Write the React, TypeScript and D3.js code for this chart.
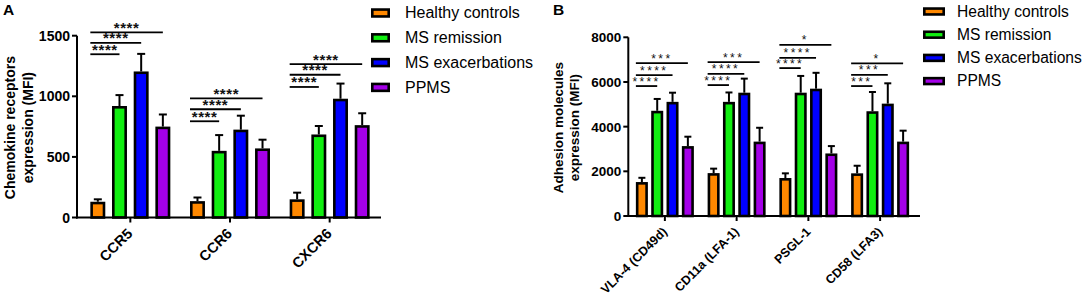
import React from "react";
import * as d3 from "d3";

// ---------- shared ----------
const seriesNames = ["Healthy controls", "MS remission", "MS exacerbations", "PPMS"];
const seriesColors = ["#FF8800", "#11EE11", "#0000FF", "#A400E8"];

// ---------- Panel A: chemokine receptors ----------
const chemoCategories = ["CCR5", "CCR6", "CXCR6"];
const chemoHealthy = [130, 135, 150];
const chemoHealthyErr = [20, 30, 55];
const chemoRemission = [920, 550, 685];
const chemoRemissionErr = [90, 130, 70];
const chemoExacerb = [1205, 725, 980];
const chemoExacerbErr = [145, 115, 125];
const chemoPPMS = [750, 570, 762];
const chemoPPMSErr = [100, 72, 98];
const chemoTicks = [0, 500, 1000, 1500];
const chemoSigY = [
  [1347, 1440, 1528],
  [794, 893, 983],
  [1077, 1178, 1266],
];
const chemoSigLabels = [
  ["****", "****", "****"],
  ["****", "****", "****"],
  ["****", "****", "****"],
];

// ---------- Panel B: adhesion molecules ----------
const adhCategories = ["VLA-4 (CD49d)", "CD11a (LFA-1)", "PSGL-1", "CD58 (LFA3)"];
const adhHealthy = [1520, 1920, 1700, 1910];
const adhHealthyErr = [190, 200, 210, 340];
const adhRemission = [4710, 5110, 5520, 4690];
const adhRemissionErr = [530, 420, 750, 860];
const adhExacerb = [5110, 5520, 5700, 5030];
const adhExacerbErr = [410, 630, 710, 910];
const adhPPMS = [3130, 3330, 2800, 3330];
const adhPPMSErr = [420, 620, 330, 490];
const adhTicks = [0, 2000, 4000, 6000, 8000];
const adhSigY = [
  [5817, 6309, 6846],
  [5861, 6367, 6890],
  [6622, 7083, 7664],
  [5817, 6322, 6832],
];
const adhSigLabels = [
  ["****", "****", "***"],
  ["****", "****", "***"],
  ["****", "****", "*"],
  ["***", "***", "*"],
];

const FONT = "'Liberation Sans', Arial, Helvetica, sans-serif";

type PanelProps = {
  letter: string;
  letterX: number;
  categories: string[];
  values: number[][];
  errors: number[][];
  ticks: number[];
  sigY: number[][];
  sigLabels: string[][];
  yMax: number;
  axisX: number;
  axisEnd: number;
  bandStart: number;
  bandEnd: number;
  y0: number;
  yTop: number;
  groupWidth: number;
  barPad: number;
  fontSize: number;
  catFont: number;
  catDy: number;
  yLabel: string[];
  yLabelX: number[];
  starFont: number;
  starSpacing: number;
  starWeight: string;
  starDy: number;
  legendX: number;
  legendY: number;
  legendStep: number;
  swW: number;
  swH: number;
  legendFont: number;
  legendTextX: number;
  capW: number;
};

function Panel(p: PanelProps) {
  const y = d3.scaleLinear().domain([0, p.yMax]).range([p.y0, p.yTop]);
  const x = d3.scaleBand<string>().domain(p.categories).range([p.bandStart, p.bandEnd]).padding(0);
  const sub = d3
    .scaleBand<string>()
    .domain(seriesNames)
    .range([-p.groupWidth / 2, p.groupWidth / 2])
    .paddingInner(p.barPad)
    .paddingOuter(0);
  const bw = sub.bandwidth();
  const sw = 2.6;
  const center = (c: string) => (x(c) as number) + x.bandwidth() / 2;
  const barCenter = (c: string, s: string) => center(c) + (sub(s) as number) + bw / 2;
  const midY = (p.y0 + p.yTop) / 2;

  return (
    <g fontFamily={FONT}>
      <text x={p.letterX} y={15} fontSize={15.5} fontWeight="bold">
        {p.letter}
      </text>
      {/* y label */}
      {p.yLabel.map((t, i) => (
        <text
          key={t}
          transform={`translate(${p.yLabelX[i]},${midY + 1}) rotate(-90)`}
          textAnchor="middle"
          fontSize={p.fontSize}
          fontWeight="bold"
        >
          {t}
        </text>
      ))}
      {/* bars */}
      {p.categories.map((c, ci) =>
        seriesNames.map((s, si) => {
          const v = p.values[si][ci];
          const e = p.errors[si][ci];
          const cx = barCenter(c, s);
          const top = y(v);
          const et = y(v + e);
          return (
            <g key={c + s}>
              <line x1={cx} x2={cx} y1={top} y2={et} stroke="#000" strokeWidth={2} />
              <line x1={cx - p.capW / 2} x2={cx + p.capW / 2} y1={et} y2={et} stroke="#000" strokeWidth={2} />
              <rect
                x={cx - bw / 2 + sw / 2}
                y={top + sw / 2}
                width={bw - sw}
                height={p.y0 - top - sw / 2}
                fill={seriesColors[si]}
                stroke="#000"
                strokeWidth={sw}
              />
            </g>
          );
        })
      )}
      {/* significance */}
      {p.categories.map((c, ci) =>
        p.sigY[ci].map((sv, k) => {
          const xs = barCenter(c, seriesNames[0]) - bw / 2;
          const xe = barCenter(c, seriesNames[k + 1]);
          const yy = y(sv);
          return (
            <g key={c + "sig" + k}>
              <line x1={xs} x2={xe} y1={yy} y2={yy} stroke="#000" strokeWidth={1.8} />
              <text
                x={(xs + xe) / 2}
                y={yy + p.starDy}
                textAnchor="middle"
                fontSize={p.starFont}
                fontWeight={p.starWeight}
                letterSpacing={p.starSpacing}
                fill="#111"
              >
                {p.sigLabels[ci][k]}
              </text>
            </g>
          );
        })
      )}
      {/* y axis */}
      <line x1={p.axisX} x2={p.axisX} y1={p.y0 + 1} y2={p.yTop} stroke="#000" strokeWidth={2} />
      {p.ticks.map((t) => (
        <g key={"t" + t}>
          <line x1={p.axisX - 5} x2={p.axisX} y1={y(t)} y2={y(t)} stroke="#000" strokeWidth={2} />
          <text
            x={p.axisX - 7}
            y={y(t) + p.fontSize * 0.36}
            textAnchor="end"
            fontSize={p.fontSize}
            fontWeight="bold"
          >
            {t}
          </text>
        </g>
      ))}
      {/* x axis */}
      <line x1={p.axisX - 1} x2={p.axisEnd} y1={p.y0} y2={p.y0} stroke="#000" strokeWidth={2} />
      {p.categories.map((c) => (
        <g key={"c" + c}>
          <line x1={center(c)} x2={center(c)} y1={p.y0} y2={p.y0 + 5} stroke="#000" strokeWidth={2} />
          <text
            transform={`translate(${center(c) + 3},${p.y0 + p.catDy}) rotate(-45)`}
            textAnchor="end"
            fontSize={p.catFont}
            fontWeight="bold"
          >
            {c}
          </text>
        </g>
      ))}
      {/* legend */}
      {seriesNames.map((s, i) => {
        const cy = p.legendY + i * p.legendStep;
        return (
          <g key={"l" + s}>
            <rect
              x={p.legendX + 1.3}
              y={cy - p.swH / 2 + 1.3}
              width={p.swW - 2.6}
              height={p.swH - 2.6}
              fill={seriesColors[i]}
              stroke="#000"
              strokeWidth={2.6}
            />
            <text x={p.legendTextX} y={cy + p.legendFont * 0.34} fontSize={p.legendFont}>
              {s}
            </text>
          </g>
        );
      })}
    </g>
  );
}

export default function App() {
  return (
    <svg
      width={1085}
      height={294}
      style={{ position: "absolute", left: 0, top: 0, background: "#fff" }}
    >
      <Panel
        letter="A"
        letterX={3}
        categories={chemoCategories}
        values={[chemoHealthy, chemoRemission, chemoExacerb, chemoPPMS]}
        errors={[chemoHealthyErr, chemoRemissionErr, chemoExacerbErr, chemoPPMSErr]}
        ticks={chemoTicks}
        sigY={chemoSigY}
        sigLabels={chemoSigLabels}
        yMax={1500}
        axisX={77}
        axisEnd={381}
        bandStart={80.5}
        bandEnd={379.5}
        y0={217.5}
        yTop={35.7}
        groupWidth={80}
        barPad={0.31}
        fontSize={14}
        catFont={14.5}
        catDy={17}
        yLabel={["Chemokine receptors", "expression (MFI)"]}
        yLabelX={[15, 33]}
        starFont={15}
        starSpacing={0.6}
        starWeight="bold"
        starDy={0.5}
        legendX={371}
        legendY={13}
        legendStep={24.8}
        swW={19}
        swH={9.5}
        legendFont={16}
        legendTextX={405}
        capW={8}
      />
      <Panel
        letter="B"
        letterX={553}
        categories={adhCategories}
        values={[adhHealthy, adhRemission, adhExacerb, adhPPMS]}
        errors={[adhHealthyErr, adhRemissionErr, adhExacerbErr, adhPPMSErr]}
        ticks={adhTicks}
        sigY={adhSigY}
        sigLabels={adhSigLabels}
        yMax={8000}
        axisX={628.3}
        axisEnd={920}
        bandStart={629}
        bandEnd={916}
        y0={216}
        yTop={37.3}
        groupWidth={58}
        barPad={0.216}
        fontSize={13.5}
        catFont={12.5}
        catDy={16.5}
        yLabel={["Adhesion molecules", "expression (MFI)"]}
        yLabelX={[563, 579]}
        starFont={12}
        starSpacing={2.4}
        starWeight="normal"
        starDy={-0.5}
        legendX={923}
        legendY={11.5}
        legendStep={23.2}
        swW={22}
        swH={8.5}
        legendFont={15.6}
        legendTextX={957}
        capW={7}
      />
    </svg>
  );
}
